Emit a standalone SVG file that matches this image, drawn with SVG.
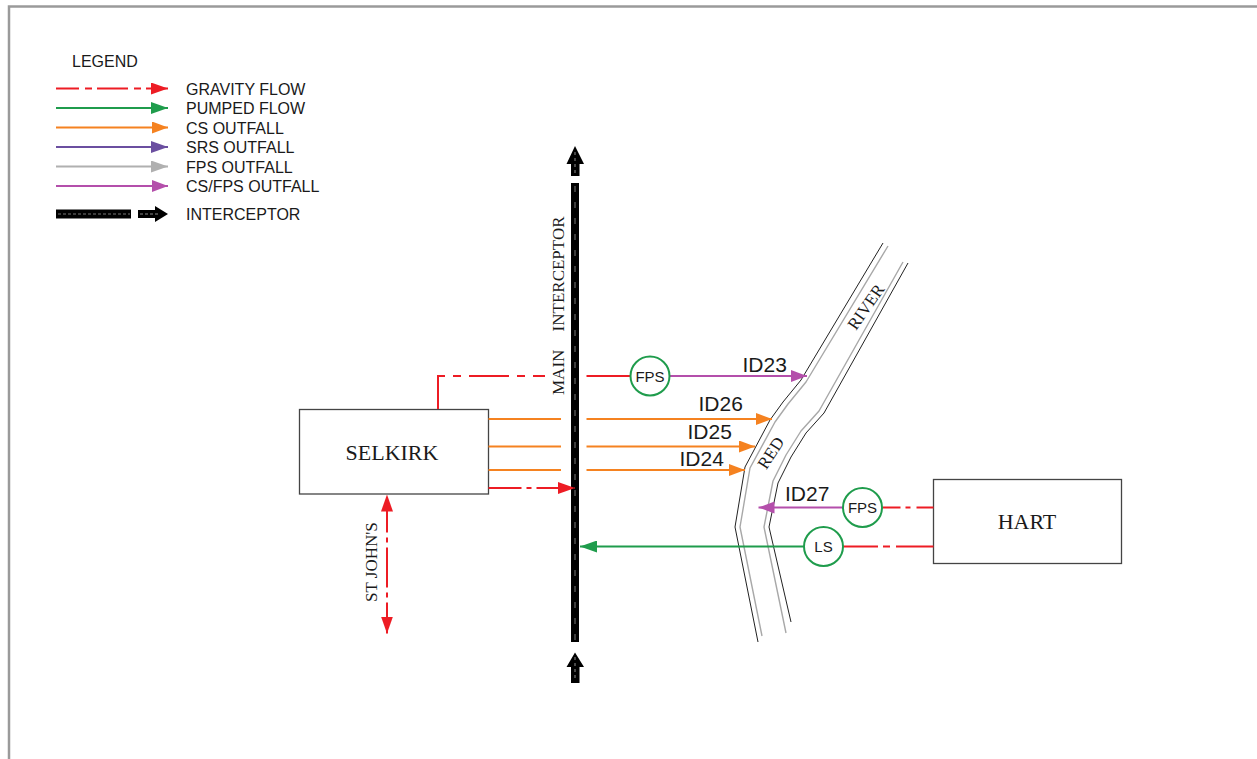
<svg xmlns="http://www.w3.org/2000/svg" width="1257" height="759" viewBox="0 0 1257 759">
<style>
.sans{font-family:"Liberation Sans",Arial,sans-serif;fill:#1a1a1a}
.serif{font-family:"Liberation Serif","Times New Roman",serif;fill:#1a1a1a}
.leg{font-size:16px}
.idl{font-size:21px}
.red{stroke:#ed1c24;stroke-width:2;fill:none}
.grn{stroke:#1f9c4c;stroke-width:2;fill:none}
.org{stroke:#f58220;stroke-width:2;fill:none}
.pur{stroke:#6b4fa0;stroke-width:2;fill:none}
.gry{stroke:#b0b0b0;stroke-width:2;fill:none}
.mag{stroke:#b44fab;stroke-width:2;fill:none}
.box{fill:#fff;stroke:#444;stroke-width:1.3}
.stn{fill:#fff;stroke:#1f9c4c;stroke-width:2}
.bk{stroke:#222;stroke-width:1;fill:none}
.bg{stroke:#a8a8a8;stroke-width:1.4;fill:none}
</style>
<defs>
<marker id="mR" markerUnits="userSpaceOnUse" markerWidth="17" markerHeight="12" refX="17" refY="6" orient="auto-start-reverse"><path d="M0,0 L17,6 L0,12 Z" fill="#ed1c24"/></marker>
<marker id="mG" markerUnits="userSpaceOnUse" markerWidth="17" markerHeight="12" refX="17" refY="6" orient="auto"><path d="M0,0 L17,6 L0,12 Z" fill="#1f9c4c"/></marker>
<marker id="mO" markerUnits="userSpaceOnUse" markerWidth="16" markerHeight="12" refX="16" refY="6" orient="auto"><path d="M0,0 L16,6 L0,12 Z" fill="#f58220"/></marker>
<marker id="mP" markerUnits="userSpaceOnUse" markerWidth="17" markerHeight="12" refX="17" refY="6" orient="auto"><path d="M0,0 L17,6 L0,12 Z" fill="#6b4fa0"/></marker>
<marker id="mY" markerUnits="userSpaceOnUse" markerWidth="17" markerHeight="12" refX="17" refY="6" orient="auto"><path d="M0,0 L17,6 L0,12 Z" fill="#b0b0b0"/></marker>
<marker id="mM" markerUnits="userSpaceOnUse" markerWidth="16" markerHeight="12" refX="16" refY="6" orient="auto"><path d="M0,0 L16,6 L0,12 Z" fill="#b44fab"/></marker>
</defs>
<rect width="1257" height="759" fill="#fff"/>
<path d="M9,759 L9,6.5 L1257,6.5" fill="none" stroke="#9a9a9a" stroke-width="2.5"/>

<g id="legend">
<text class="sans leg" x="72" y="67">LEGEND</text>
<line class="red" x1="56" y1="88.5" x2="168" y2="88.5" stroke-dasharray="31 6 7 5" stroke-dashoffset="8" marker-end="url(#mR)"/>
<text class="sans leg" x="186" y="94.5">GRAVITY FLOW</text>
<line class="grn" x1="56" y1="108" x2="168" y2="108" marker-end="url(#mG)"/>
<text class="sans leg" x="186" y="114">PUMPED FLOW</text>
<line class="org" x1="56" y1="127.5" x2="168" y2="127.5" marker-end="url(#mO)"/>
<text class="sans leg" x="186" y="133.5">CS OUTFALL</text>
<line class="pur" x1="56" y1="147" x2="168" y2="147" marker-end="url(#mP)"/>
<text class="sans leg" x="186" y="153">SRS OUTFALL</text>
<line class="gry" x1="56" y1="166.5" x2="168" y2="166.5" marker-end="url(#mY)"/>
<text class="sans leg" x="186" y="172.5">FPS OUTFALL</text>
<line class="mag" x1="56" y1="186" x2="168" y2="186" marker-end="url(#mM)"/>
<text class="sans leg" x="186" y="192">CS/FPS OUTFALL</text>
<rect x="56" y="209.5" width="75" height="9" fill="#000"/>
<line x1="58" y1="214" x2="130" y2="214" stroke="#777" stroke-width="1" stroke-dasharray="3 2"/>
<path d="M138,210 L155,210 L155,206 L168,214 L155,222 L155,218 L138,218 Z" fill="#000"/>
<line x1="140" y1="214" x2="160" y2="214" stroke="#888" stroke-width="1" stroke-dasharray="3 2"/>
<text class="sans leg" x="186" y="220">INTERCEPTOR</text>
</g>

<g id="river">
<path class="bk" d="M883,243 L801,380 L783,402 L770,420 L745,467 L735,527 L758,642" stroke-linejoin="round"/>
<path class="bg" d="M888,246 L806,382 L788,404 L775,422 L750,468 L740,527 L762,636" stroke-linejoin="round"/>
<path class="bg" d="M903,262 L819,411 L801,431 L786,455 L773,481 L764,527 L786,633" stroke-linejoin="round"/>
<path class="bk" d="M908,263 L824,413 L806,433 L791,457 L778,483 L769,527 L791,622" stroke-linejoin="round"/>
<text class="serif" font-size="17" transform="translate(866,307) rotate(-55)" text-anchor="middle" dominant-baseline="central">RIVER</text>
<text class="serif" font-size="17" transform="translate(771,453) rotate(-57)" text-anchor="middle" dominant-baseline="central">RED</text>
</g>

<g id="interceptor">
<rect x="571" y="183" width="8" height="459" fill="#000"/>
<line x1="575" y1="186" x2="575" y2="640" stroke="#fff" stroke-width="0.8" stroke-dasharray="6 10" opacity="0.6"/>
<path d="M571,176 L571,164 L566.5,164 L575,146 L584,164 L579.5,164 L579.5,176 Z" fill="#000"/>
<path d="M571,683 L571,667 L566.5,667 L575,652.5 L584,667 L579.5,667 L579.5,683 Z" fill="#000"/>
<line x1="575" y1="152" x2="575" y2="174" stroke="#fff" stroke-width="0.8" stroke-dasharray="3 3" opacity="0.7"/>
<line x1="575" y1="657" x2="575" y2="681" stroke="#fff" stroke-width="0.8" stroke-dasharray="3 3" opacity="0.7"/>
<text class="serif" font-size="17" transform="translate(564,395) rotate(-90)" word-spacing="14">MAIN INTERCEPTOR</text>
</g>

<g id="selkirk">
<rect class="box" x="299.5" y="409.5" width="189" height="84.5"/>
<text class="serif" font-size="22" x="392" y="460" text-anchor="middle">SELKIRK</text>
</g>

<g id="hart">
<rect class="box" x="933.5" y="479.5" width="188" height="84"/>
<text class="serif" font-size="22" x="1027" y="529" text-anchor="middle">HART</text>
</g>

<g id="st-johns">
<text class="serif" font-size="17" transform="translate(377,602) rotate(-90)">ST JOHN'S</text>
</g>

<g id="connectors">
<path class="red" d="M438,409 L438,376 L545,376" stroke-dasharray="40 8 8 8"/>
<line class="red" x1="586.5" y1="376" x2="631" y2="376"/>
<line class="mag" x1="669.5" y1="376" x2="807" y2="376" marker-end="url(#mM)"/>
<line class="org" x1="488.5" y1="419" x2="561" y2="419"/>
<line class="org" x1="488.5" y1="446.5" x2="561" y2="446.5"/>
<line class="org" x1="488.5" y1="470" x2="561" y2="470"/>
<line class="org" x1="586.5" y1="419" x2="772" y2="419" marker-end="url(#mO)"/>
<line class="org" x1="586.5" y1="446.5" x2="755" y2="446.5" marker-end="url(#mO)"/>
<line class="org" x1="586.5" y1="470" x2="745" y2="470" marker-end="url(#mO)"/>
<line class="red" x1="488.5" y1="488" x2="575" y2="488" stroke-dasharray="33 5 5 5" marker-end="url(#mR)"/>
<line class="red" x1="387" y1="494.5" x2="387" y2="633.5" stroke-dasharray="0 14 24 5 5 5 40 5 5 5 100" marker-start="url(#mR)" marker-end="url(#mR)"/>
<line class="mag" x1="842.5" y1="507.5" x2="758.5" y2="507.5" marker-end="url(#mM)"/>
<line class="red" x1="882.5" y1="507.5" x2="933.5" y2="507.5" stroke-dasharray="18 5 5 6 40"/>
<line class="grn" x1="803.5" y1="546.5" x2="580" y2="546.5" marker-end="url(#mG)"/>
<line class="red" x1="843" y1="546.5" x2="933.5" y2="546.5" stroke-dasharray="35 5 7 6 60"/>
</g>

<g id="fps1">
<circle class="stn" cx="650" cy="376" r="19.5"/>
<text class="sans" font-size="15" x="650" y="381.5" text-anchor="middle">FPS</text>
</g>
<g id="fps2">
<circle class="stn" cx="862.5" cy="507.5" r="19.5"/>
<text class="sans" font-size="15" x="862.5" y="513" text-anchor="middle">FPS</text>
</g>
<g id="ls">
<circle class="stn" cx="823.5" cy="546.5" r="19.5"/>
<text class="sans" font-size="15" x="823.5" y="552" text-anchor="middle">LS</text>
</g>

<g id="labels">
<text class="sans idl" x="742.5" y="372">ID23</text>
<text class="sans idl" x="698.5" y="411">ID26</text>
<text class="sans idl" x="687.5" y="438.5">ID25</text>
<text class="sans idl" x="679.5" y="466">ID24</text>
<text class="sans idl" x="785" y="501">ID27</text>
</g>
</svg>
